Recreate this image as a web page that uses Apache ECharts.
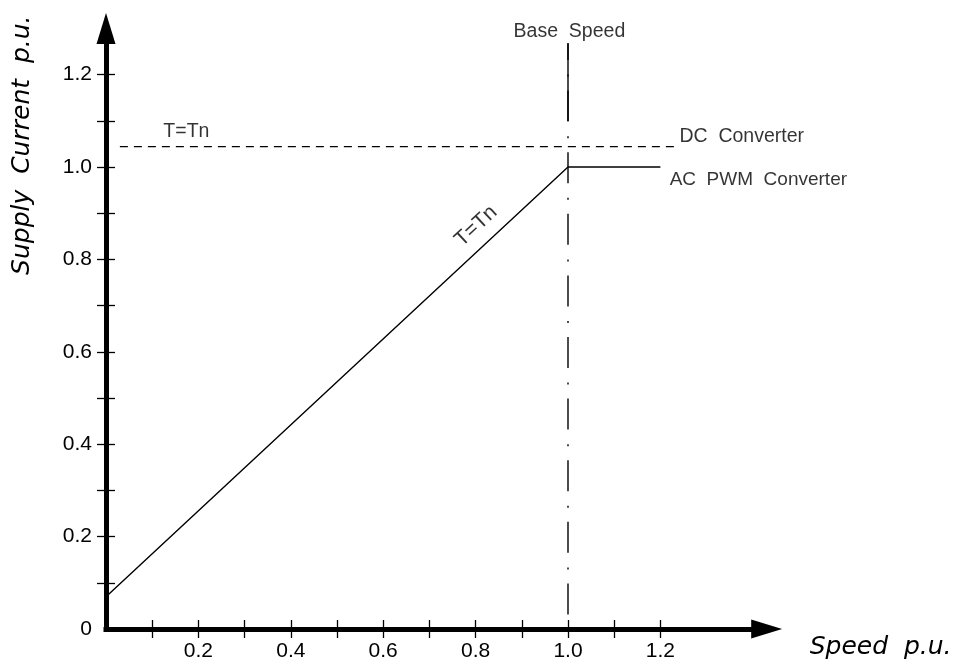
<!DOCTYPE html>
<html>
<head>
<meta charset="utf-8">
<script src="https://cdn.jsdelivr.net/npm/echarts@6/dist/echarts.min.js"></script>
<style>html,body{margin:0;padding:0;background:#fff;}#c{width:960px;height:666px;}</style>
</head>
<body>
<div id="c"></div>
<script>
// ---- data ----
const xTickValues = [0.1, 0.2, 0.3, 0.4, 0.5, 0.6, 0.7, 0.8, 0.9, 1.0, 1.1, 1.2];
const xLabelValues = [0.2, 0.4, 0.6, 0.8, 1.0, 1.2];
const yTickValues = [0.1, 0.2, 0.3, 0.4, 0.5, 0.6, 0.7, 0.8, 0.9, 1.0, 1.1, 1.2];
const yLabelValues = [0, 0.2, 0.4, 0.6, 0.8, 1.0, 1.2];

const acSpeed = [0, 1.0, 1.2];
const acCurrent = [0.07, 1.0, 1.0];

const dcSpeed = [0.03, 1.232];
const dcCurrent = [1.044, 1.044];

const baseSpeedX = [1.0, 1.0];
const baseSpeedY = [0, 1.268];
const baseSolidY = [1.0996, 1.268];

const noteText = ['Base  Speed', 'DC  Converter', 'AC  PWM  Converter', 'T=Tn', 'T=Tn'];
const noteX = [1.003, 1.376, 1.412, 0.174, 0.801];
const noteY = [1.294, 1.066, 0.972, 1.077, 0.872];

const xTitle = 'Speed  p.u.';
const yTitle = 'Supply  Current  p.u.';

// ---- styles ----
const narrow = "'Liberation Sans Narrow', 'Liberation Sans', sans-serif";
const regular = "'Liberation Sans', sans-serif";
const italic = "'DejaVu Sans', sans-serif";
const noteStyles = [
  {fontFamily: regular, fontSize: 19.5, rotate: 0},
  {fontFamily: regular, fontSize: 19.5, rotate: 0},
  {fontFamily: regular, fontSize: 19, rotate: 0},
  {fontFamily: narrow, fontSize: 19.5, rotate: 0},
  {fontFamily: narrow, fontSize: 21, rotate: 43}
];

const pair = (xs, ys) => xs.map((x, i) => [x, ys[i]]);
const fmt = v => (Math.abs(v) < 1e-9 ? '0' : v.toFixed(1));

const XMAX = 1.43, YMAX = 1.30, SCALE = 462;

const chart = echarts.init(document.getElementById('c'), null, {renderer: 'canvas'});
chart.setOption({
  animation: false,
  backgroundColor: '#fff',
  grid: {left: 106, top: 629 - YMAX * SCALE, width: XMAX * SCALE, height: YMAX * SCALE, outerBoundsMode: 'none', containLabel: false},
  xAxis: [{
    type: 'value', min: 0, max: XMAX, position: 'bottom',
    axisLine: {show: true, onZero: false, symbol: ['none', 'triangle'], symbolSize: [19, 31], lineStyle: {color: '#000', width: 5, cap: 'square'}},
    axisTick: {show: true, inside: false, length: 9, customValues: xTickValues, lineStyle: {color: '#000', width: 1.3}},
    axisLabel: {show: true, customValues: xLabelValues, formatter: fmt, margin: 12, color: '#000', fontFamily: narrow, fontSize: 21},
    splitLine: {show: false},
    name: xTitle, nameLocation: 'end', nameGap: 43,
    nameTextStyle: {fontFamily: italic, fontStyle: 'italic', fontSize: 25, color: '#000', align: 'left', verticalAlign: 'top', lineHeight: 37}
  }, {
    type: 'value', min: 0, max: XMAX, position: 'bottom',
    axisLine: {show: false, onZero: false},
    axisTick: {show: true, inside: true, length: 9, customValues: xTickValues, lineStyle: {color: '#000', width: 1.3}},
    axisLabel: {show: false},
    splitLine: {show: false}
  }],
  yAxis: [{
    type: 'value', min: 0, max: YMAX, position: 'left',
    axisLine: {show: true, onZero: false, symbol: ['none', 'triangle'], symbolSize: [19, 31], lineStyle: {color: '#000', width: 5, cap: 'square'}},
    axisTick: {show: true, inside: false, length: 9, customValues: yTickValues, lineStyle: {color: '#000', width: 1.3}},
    axisLabel: {show: true, customValues: yLabelValues, formatter: fmt, margin: 14, color: '#000', fontFamily: narrow, fontSize: 21},
    splitLine: {show: false},
    name: yTitle, nameLocation: 'middle', nameGap: 84, nameRotate: 90,
    nameTextStyle: {fontFamily: italic, fontStyle: 'italic', fontSize: 25, color: '#000', align: 'center', verticalAlign: 'middle', padding: [0, 0, 0, 367]}
  }, {
    type: 'value', min: 0, max: YMAX, position: 'left',
    axisLine: {show: false, onZero: false},
    axisTick: {show: true, inside: true, length: 9, customValues: yTickValues, lineStyle: {color: '#000', width: 1.3}},
    axisLabel: {show: false},
    splitLine: {show: false}
  }],
  series: [
    {
      type: 'line', name: 'AC PWM Converter', data: pair(acSpeed, acCurrent), symbol: 'none',
      lineStyle: {color: '#000', width: 1.4}, z: 3
    },
    {
      type: 'line', name: 'DC Converter', data: pair(dcSpeed, dcCurrent), symbol: 'none',
      lineStyle: {color: '#000', width: 1.4, type: [8, 6]}, z: 3
    },
    {
      type: 'line', name: 'Base Speed', data: pair(baseSpeedX, baseSpeedY), symbol: 'none',
      lineStyle: {color: '#000', width: 1.4, type: [31, 14, 2, 14.6], dashOffset: 47}, z: 3
    },
    {
      type: 'line', name: 'Base Speed top', data: pair(baseSpeedX, baseSolidY), symbol: 'none',
      lineStyle: {color: '#000', width: 1.4}, z: 3
    },
    {
      type: 'scatter', symbolSize: 0, silent: true, z: 4,
      itemStyle: {color: '#000'},
      data: noteText.map((t, i) => ({
        name: t, value: [noteX[i], noteY[i]],
        label: {show: true, position: 'inside', formatter: '{b}', color: '#000', textBorderWidth: 0, textBorderColor: 'transparent',
          align: 'center', verticalAlign: 'middle',
          fontFamily: noteStyles[i].fontFamily, fontSize: noteStyles[i].fontSize, rotate: noteStyles[i].rotate}
      }))
    }
  ]
});
</script>
</body>
</html>
